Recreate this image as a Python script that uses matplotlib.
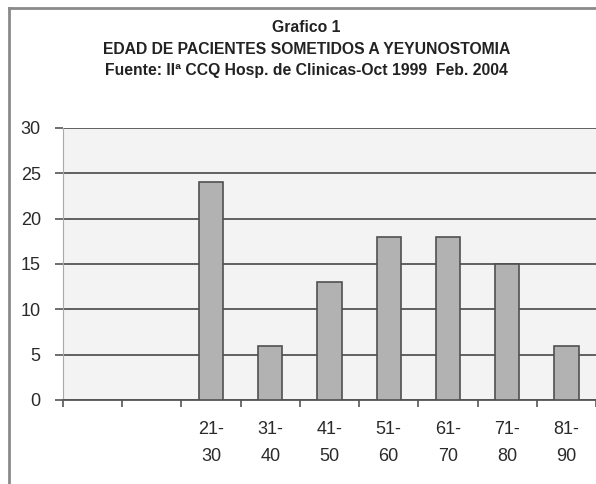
"""Bar chart: edad de pacientes sometidos a yeyunostomia."""
import matplotlib

matplotlib.use("Agg")
import matplotlib.pyplot as plt
from matplotlib.lines import Line2D
import numpy as np

# age groups (first two category slots are empty in the original chart)
categories = ["", "", "21-\n30", "31-\n40", "41-\n50", "51-\n60", "61-\n70", "71-\n80", "81-\n90"]
patients = [0, 0, 24, 6, 13, 18, 18, 15, 6]
y_ticks = [0, 5, 10, 15, 20, 25, 30]

title_lines = [
    "Grafico 1",
    "EDAD DE PACIENTES SOMETIDOS A YEYUNOSTOMIA",
    "Fuente: II\u00aa CCQ Hosp. de Clinicas-Oct 1999  Feb. 2004",
]
title_y_px = [28, 49, 71]

plt.rcParams["font.family"] = ["Liberation Sans", "DejaVu Sans"]

fig = plt.figure(figsize=(5.96, 4.84), dpi=100)
ax = fig.add_axes([63 / 596, 84 / 484, 533 / 596, 272 / 484])

x = np.arange(len(categories))
mask = np.array([c != "" for c in categories])
ax.set_facecolor("#f3f3f3")
ax.bar(x[mask], np.array(patients)[mask], width=0.41,
       color="#b2b2b2", edgecolor="#505050", linewidth=1.2, zorder=3)

ax.set_xlim(-0.5, len(categories) - 0.5)
ax.set_ylim(0, 30)
ax.set_yticks(y_ticks)
ax.set_yticklabels([str(v) for v in y_ticks], fontsize=13, color="#2a2a2a")
ax.yaxis.grid(True, color="#555555", linewidth=1.3, zorder=1)
ax.tick_params(axis="y", length=6, width=1.2, color="#555555", pad=10)

# category labels at centers, tick marks at boundaries
ax.set_xticks(x)
ax.set_xticklabels(categories, fontsize=13, color="#2a2a2a", linespacing=1.75)
ax.tick_params(axis="x", which="major", length=0, pad=15)
ax.set_xticks(np.arange(len(categories) + 1) - 0.5, minor=True)
ax.tick_params(axis="x", which="minor", length=5, width=1.2, color="#555555")

for side in ["top", "right"]:
    ax.spines[side].set_visible(False)
ax.spines["left"].set_color("#aaaaaa")
ax.spines["bottom"].set_color("#555555")
ax.spines["bottom"].set_linewidth(1.3)

for line, ypx in zip(title_lines, title_y_px):
    fig.text(0.514, 1 - ypx / 484, line, ha="center", va="center",
             fontsize=11.3, fontweight="bold", color="#222222")

# outer frame of the original picture
fig.add_artist(Line2D([9 / 596, 9 / 596], [0, 1 - 8 / 484], transform=fig.transFigure,
                      color="#8a8a8a", linewidth=2))
fig.add_artist(Line2D([9 / 596, 1], [1 - 8 / 484, 1 - 8 / 484], transform=fig.transFigure,
                      color="#8a8a8a", linewidth=2))

fig.savefig("out.png", dpi=100)
